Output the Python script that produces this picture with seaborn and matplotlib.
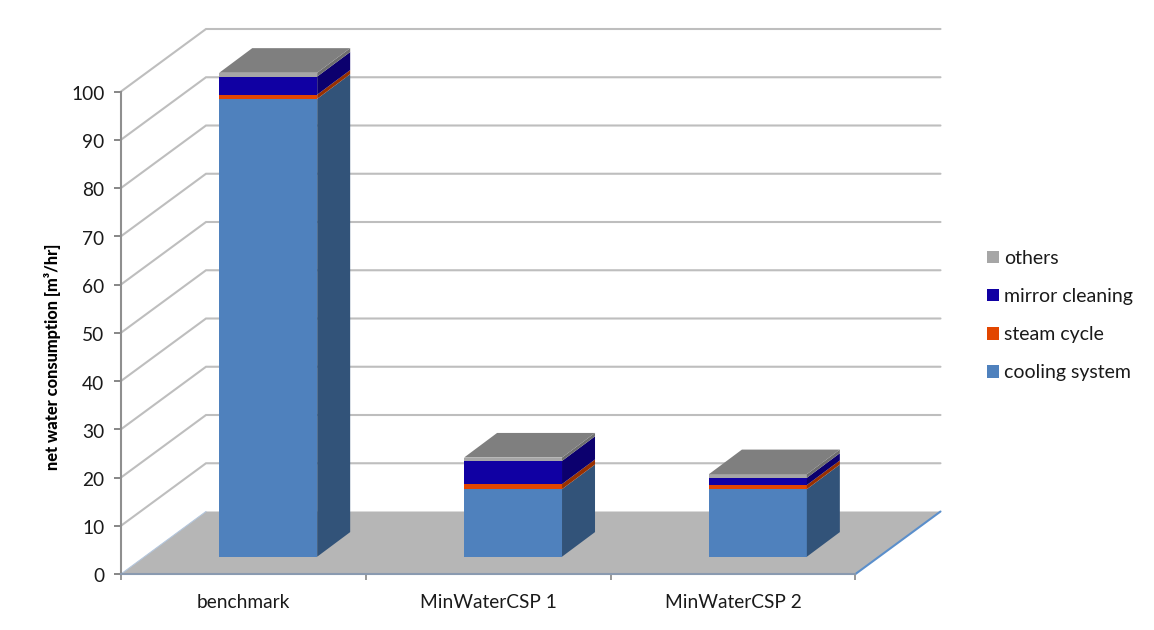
import pandas as pd
import matplotlib
matplotlib.use("Agg")
import matplotlib.pyplot as plt
from matplotlib.patches import Polygon, Patch
from matplotlib.transforms import offset_copy
import seaborn as sns

# Values, m3/hr
scenarios = ['benchmark', 'MinWaterCSP 1', 'MinWaterCSP 2']
cooling_system = [94.9, 14.0, 14.0]
steam_cycle = [0.85, 1.05, 0.85]
mirror_cleaning = [3.75, 4.8, 1.5]
others = [0.8, 0.7, 0.75]
y_ticks = [0, 10, 20, 30, 40, 50, 60, 70, 80, 90, 100]

sns.set_theme(style="white")
plt.rcParams['font.family'] = ['Lato', 'DejaVu Sans']
plt.rcParams['ytick.alignment'] = 'center_baseline'

W, H = 1154, 630
fig = plt.figure(figsize=(W/100, H/100), dpi=100)
# axes box = front edge of the floor and the y axis
ax = fig.add_axes([121/W, (H-574)/H, (855.5-121)/W, (574-91.5)/H])
px_x = 3/(855.5-121)      # data units per pixel, x
px_y = 100/(574-91.5)     # data units per pixel, y

# Oblique depth offsets
wall_dx, wall_dy = 85*px_x, 62.5*px_y
bar_dx, bar_dy = 33*px_x, 24.6*px_y
shift_x, shift_y = 24.8*px_x, 17.3*px_y

# Floor
floor = [(-0.5, 0), (2.5, 0), (2.5+wall_dx, wall_dy), (-0.5+wall_dx, wall_dy)]
ax.add_patch(Polygon(floor, fc='#b6b6b6', ec='none', zorder=1, clip_on=False))
ax.plot([2.5, 2.5+wall_dx], [0, wall_dy], color='#5b8fcb', lw=1.5, zorder=1.5, clip_on=False)
ax.plot([-0.5, -0.5+wall_dx], [0, wall_dy], color='#b4c6dc', lw=0.8, zorder=1.5, clip_on=False)

# Gridlines on the side and back walls
for v in y_ticks[1:]:
    ax.plot([-0.5, -0.5+wall_dx, 2.5+wall_dx], [v, v+wall_dy, v+wall_dy],
            color='#bebebe', lw=1.5, zorder=0.8, clip_on=False, solid_joinstyle='miter')

# Stacked bars: front colour, side colour
series = [('cooling system', cooling_system, '#4f81bd', '#325379'),
          ('steam cycle', steam_cycle, '#e24600', '#983000'),
          ('mirror cleaning', mirror_cleaning, '#1000a3', '#0c006e'),
          ('others', others, '#a6a6a6', '#6e6e6e')]

bottom = [0, 0, 0]
for name, vals, front, side in series:
    df = pd.DataFrame({'scenario': scenarios, 'value': vals})
    sns.barplot(data=df, x='scenario', y='value', color=front, saturation=1, width=0.4,
                errorbar=None, linewidth=0, bottom=bottom, ax=ax, zorder=3, clip_on=False)
    for bar in ax.containers[-1]:
        bar.set_x(bar.get_x()+shift_x)
        bar.set_y(bar.get_y()+shift_y)
        x0, x1 = bar.get_x(), bar.get_x()+bar.get_width()
        y0, y1 = bar.get_y(), bar.get_y()+bar.get_height()
        ax.add_patch(Polygon([(x1, y0), (x1+bar_dx, y0+bar_dy), (x1+bar_dx, y1+bar_dy), (x1, y1)],
                             fc=side, ec='none', zorder=3, clip_on=False))
        if name == 'others':
            ax.add_patch(Polygon([(x0, y1), (x1, y1), (x1+bar_dx, y1+bar_dy), (x0+bar_dx, y1+bar_dy)],
                                 fc='#7f7f7f', ec='none', zorder=3.1, clip_on=False))
    bottom = [b+v for b, v in zip(bottom, vals)]

# Axes
ax.set_xlim(-0.5, 2.5)
ax.set_ylim(0, 100)
ax.set_yticks(y_ticks)
ax.set_xticks([-0.5, 0.5, 1.5, 2.5])
ax.set_xticklabels([])
ax.set_xticks([0, 1, 2], minor=True)
ax.set_xticklabels(scenarios, minor=True)
ax.set_xlabel('')
ax.tick_params(axis='y', which='major', left=True, length=5, width=1.4, color='#868686',
               labelsize=13.8, labelcolor='#1a1a1a', pad=7)
ax.tick_params(axis='x', which='major', bottom=True, length=4.5, width=1.2, color='#868686')
ax.tick_params(axis='x', which='minor', bottom=False, labelsize=13.8, labelcolor='#1a1a1a', pad=10.7)
# nudge y tick labels down so they sit level with the ticks
for tick in ax.yaxis.get_major_ticks():
    tick.label1.set_transform(offset_copy(tick.label1.get_transform(), fig=fig, y=-1.5, units='dots'))
ax.set_ylabel('net water consumption [m³/hr]', fontsize=11.8, fontweight='black', color='black')
ax.yaxis.set_label_coords((61-121)/734.5, (574-357)/482.5)
sns.despine(ax=ax, top=True, right=True)
ax.spines['left'].set(color='#8f8f8f', linewidth=1.5)
ax.spines['bottom'].set(color='#8a9ab0', linewidth=1.5)
ax.patch.set_alpha(0)

# Legend, top entry first
handles = [Patch(fc=front, ec='none', label=name) for name, _, front, _ in reversed(series)]
fig.legend(handles=handles, loc='center left', bbox_to_anchor=(987/W, (H-315.5)/H), frameon=False,
           fontsize=14, labelcolor='#1a1a1a', handlelength=0.62, handleheight=0.62,
           handletextpad=0.28, labelspacing=1.085, borderpad=0, borderaxespad=0)

fig.savefig('out.png', dpi=100)
